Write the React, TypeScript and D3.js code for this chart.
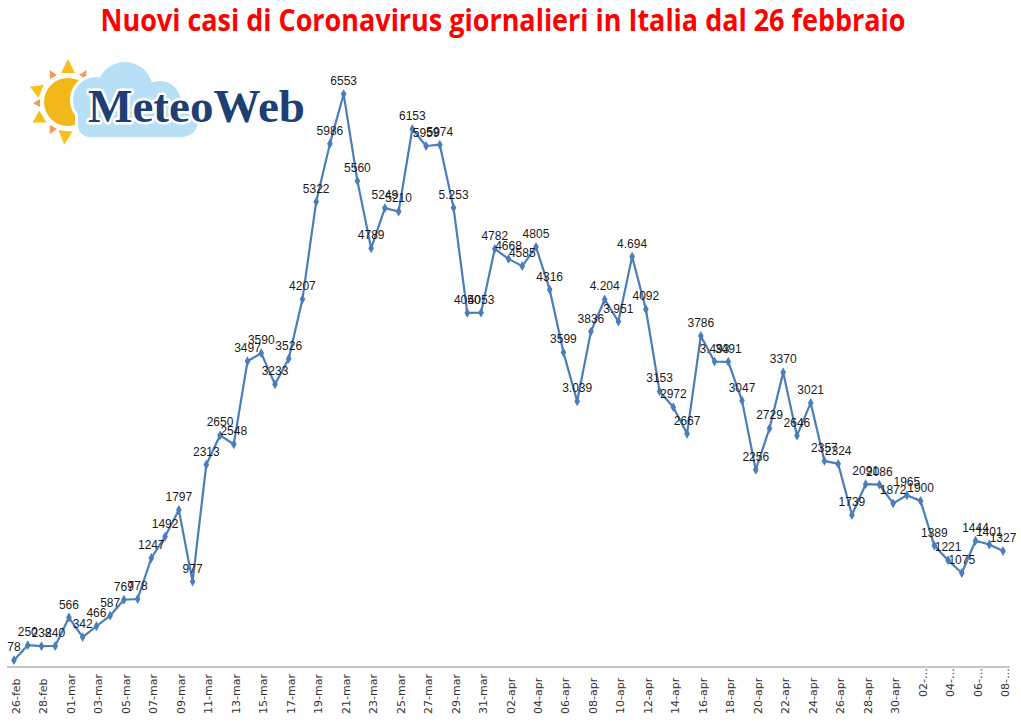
import * as d3 from 'd3';

// Daily new cases, 26 Feb -> 08 May 2020
const startDay = new Date(2020, 1, 26);
const endDay = new Date(2020, 4, 9);

const newCases = [
  78, 250, 238, 240, 566, 342, 466, 587, 769, 778, 1247, 1492, 1797, 977, 2313,
  2650, 2548, 3497, 3590, 3233, 3526, 4207, 5322, 5986, 6553, 5560, 4789, 5249,
  5210, 6153, 5959, 5974, 5253, 4050, 4053, 4782, 4668, 4585, 4805, 4316, 3599,
  3039, 3836, 4204, 3951, 4694, 4092, 3153, 2972, 2667, 3786, 3493, 3491, 3047,
  2256, 2729, 3370, 2646, 3021, 2357, 2324, 1739, 2091, 2086, 1872, 1965, 1900,
  1389, 1221, 1075, 1444, 1401, 1327,
];

// labels that were typed with a thousands dot in the original
const dottedDays = ['29-03', '07-04', '09-04', '10-04', '11-04', '17-04'];

// category labels shown (every other day)
const tickLabels = [
  '26-feb', '28-feb', '01-mar', '03-mar', '05-mar', '07-mar', '09-mar', '11-mar',
  '13-mar', '15-mar', '17-mar', '19-mar', '21-mar', '23-mar', '25-mar', '27-mar',
  '29-mar', '31-mar', '02-apr', '04-apr', '06-apr', '08-apr', '10-apr', '12-apr',
  '14-apr', '16-apr', '18-apr', '20-apr', '22-apr', '24-apr', '26-apr', '28-apr',
  '30-apr', '02-…', '04-…', '06-…', '08-…',
];

const title = 'Nuovi casi di Coronavirus giornalieri in Italia dal 26 febbraio';

const W = 1021;
const H = 721;

const Logo = () => {
  const sunC = { x: 68, y: 102 };
  // rays: angle (deg, screen coords), inner, outer, half width, colour
  const rays = [
    { a: -90, r0: 29, r1: 43, w: 7, c: '#f6bf1c' },
    { a: 95, r0: 29, r1: 43, w: 7, c: '#f6bf1c' },
    { a: -158, r0: 29, r1: 41, w: 7, c: '#f6bf1c' },
    { a: 150, r0: 29, r1: 41, w: 7, c: '#f6bf1c' },
    { a: -60, r0: 29, r1: 37, w: 4, c: '#f39a55' },
    { a: -120, r0: 29, r1: 37, w: 4, c: '#f39a55' },
    { a: 178, r0: 28, r1: 35, w: 4, c: '#f39a55' },
    { a: 120, r0: 29, r1: 37, w: 4, c: '#f39a55' },
  ];
  const rayPath = (r: (typeof rays)[number]) => {
    const t = (r.a * Math.PI) / 180;
    const ux = Math.cos(t);
    const uy = Math.sin(t);
    const px = -uy;
    const py = ux;
    const bx = sunC.x + ux * r.r0;
    const by = sunC.y + uy * r.r0;
    return `M${bx + px * r.w},${by + py * r.w}L${sunC.x + ux * r.r1},${sunC.y + uy * r.r1}L${bx - px * r.w},${by - py * r.w}Z`;
  };
  const cloud = (
    <>
      <circle cx={96} cy={100} r={23} />
      <circle cx={125} cy={90} r={28} />
      <circle cx={160} cy={102} r={21} />
      <circle cx={184} cy={122} r={14} />
      <rect x={78} y={100} width={116} height={37} rx={12} />
    </>
  );
  return (
    <g>
      {rays.map((r, i) => (
        <path key={i} d={rayPath(r)} fill={r.c} />
      ))}
      <circle cx={sunC.x} cy={sunC.y} r={24} fill='#f2b81a' />
      <g fill='#ffffff' stroke='#ffffff' strokeWidth={6}>
        {cloud}
      </g>
      <g fill='#b7dff5'>{cloud}</g>
      <text
        x={88}
        y={122}
        textLength={217}
        lengthAdjust='spacingAndGlyphs'
        fontFamily="'Liberation Serif', 'DejaVu Serif', serif"
        fontWeight='bold'
        fontSize={46}
        fill='#1d3f74'
        stroke='#ffffff'
        strokeWidth={5}
        paintOrder='stroke'
        strokeLinejoin='round'
      >
        MeteoWeb
      </text>
    </g>
  );
};

const App = () => {
  const days = d3.timeDay.range(startDay, endDay);
  const keyFmt = d3.timeFormat('%d-%m');

  const x = d3
    .scaleLinear()
    .domain([0, days.length - 1])
    .range([14, 1003]);
  const y = d3.scaleLinear().domain([0, 7000]).range([667, 55]);

  const line = d3
    .line<number>()
    .x((_, i) => x(i))
    .y((d) => y(d));

  const diamond = d3.symbol().type(d3.symbolDiamond).size(28)() || '';
  const dotFmt = (v: number) => d3.format(',')(v).replace(',', '.');

  const step = x(1) - x(0);
  const axisY = y(0);

  return (
    <svg
      width={W}
      height={H}
      style={{ position: 'absolute', left: 0, top: 0, background: '#fff' }}
    >
      <text
        x={503}
        y={31}
        textAnchor='middle'
        textLength={805}
        lengthAdjust='spacingAndGlyphs'
        fontFamily="'Liberation Sans Narrow', 'Open Sans', sans-serif"
        fontWeight='bold'
        fontSize={30}
        fill='#ff0000'
      >
        {title}
      </text>

      <Logo />

      {/* category axis */}
      <line
        x1={x(0) - step / 2}
        x2={x(days.length - 1) + step / 2}
        y1={axisY}
        y2={axisY}
        stroke='#8c8c8c'
        strokeWidth={1}
      />
      {tickLabels.map((t, i) => {
        const tx = x(i * 2) + 6;
        const short = t.includes('…');
        const ty = short ? axisY + 1 : 714;
        return (
          <text
            key={t + i}
            transform={`translate(${tx},${ty}) rotate(-90)`}
            textAnchor={short ? 'end' : 'start'}
            fontFamily="'DejaVu Sans', Verdana, sans-serif"
            fontSize={11}
            fill='#333'
          >
            {t}
          </text>
        );
      })}

      <path
        d={line(newCases) || ''}
        fill='none'
        stroke='#4a7ebb'
        strokeWidth={2.2}
        strokeLinejoin='round'
      />
      {newCases.map((v, i) => (
        <path
          key={'m' + i}
          d={diamond}
          transform={`translate(${x(i)},${y(v)})`}
          fill='#4a7ebb'
        />
      ))}
      {newCases.map((v, i) => {
        const dotted = dottedDays.includes(keyFmt(days[i]));
        return (
          <text
            key={'l' + i}
            x={x(i)}
            y={y(v) - 9}
            textAnchor='middle'
            fontFamily="'Liberation Sans', Arial, sans-serif"
            fontSize={12}
            fill='#1a1a1a'
          >
            {dotted ? dotFmt(v) : String(v)}
          </text>
        );
      })}
    </svg>
  );
};

export default App;
